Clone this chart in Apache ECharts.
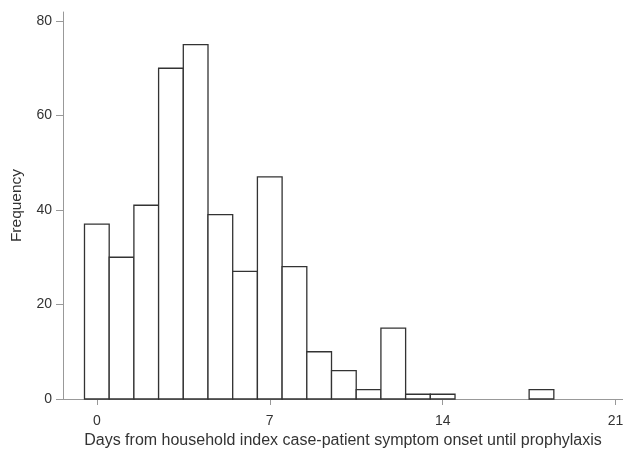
<!DOCTYPE html>
<html>
<head>
<meta charset="utf-8">
<script src="https://cdn.jsdelivr.net/npm/echarts@6/dist/echarts.min.js"></script>
<style>
    html, body { margin: 0; padding: 0; background: #fff; }
    #chart { width: 623px; height: 449px; }
</style>
</head>
<body>
<div id="chart"></div>
<script>
// 直方图数据：每个柱子对应的天数和频数
const days = [0, 1, 2, 3, 4, 5, 6, 7, 8, 9, 10, 11, 12, 13, 14, 18];
const counts = [37, 30, 41, 70, 75, 39, 27, 47, 28, 10, 6, 2, 15, 1, 1, 2];
const xTicks = [0, 7, 14, 21];
const yTicks = [0, 20, 40, 60, 80];
const binWidth = 1;

let mychart = echarts.init(document.getElementById('chart'));
const font = 'Liberation Sans, Arial, sans-serif';

let option = {
    animation: false,
    grid: { left: 63, right: 0, top: 12, bottom: 50, outerBoundsMode: 'none' },
    xAxis: {
        type: 'value',
        min: -1.37,
        max: 21.3,
        name: 'Days from household index case-patient symptom onset until prophylaxis',
        nameLocation: 'middle',
        nameGap: 34,
        nameTextStyle: { color: '#333', fontSize: 16, fontFamily: font },
        axisLine: { show: true, onZero: false, lineStyle: { color: '#999', width: 1 } },
        axisTick: { show: true, length: 6, lineStyle: { color: '#999' }, customValues: xTicks },
        axisLabel: { color: '#333', fontSize: 14, fontFamily: font, margin: 15, customValues: xTicks },
        splitLine: { show: false }
    },
    yAxis: {
        type: 'value',
        min: 0,
        max: 81.9,
        name: 'Frequency',
        nameLocation: 'middle',
        nameGap: 38,
        nameTextStyle: { color: '#333', fontSize: 15.5, fontFamily: font },
        axisLine: { show: true, onZero: false, lineStyle: { color: '#999', width: 1 } },
        axisTick: { show: true, length: 7, lineStyle: { color: '#999' }, customValues: yTicks },
        axisLabel: { color: '#333', fontSize: 14, fontFamily: font, margin: 11, customValues: yTicks },
        splitLine: { show: false }
    },
    series: [
        {
            type: 'custom',
            renderItem: function (params, api) {
                let p0 = api.coord([api.value(0), 0]);
                let p1 = api.coord([api.value(1), api.value(2)]);
                return {
                    type: 'rect',
                    shape: { x: p0[0], y: p1[1], width: p1[0] - p0[0], height: p0[1] - p1[1] },
                    style: { fill: '#fff', stroke: '#333', lineWidth: 1.3 }
                };
            },
            encode: { x: [0, 1], y: 2 },
            data: days.map((d, i) => [d - binWidth / 2, d + binWidth / 2, counts[i]])
        }
    ]
};
mychart.setOption(option);
</script>
</body>
</html>
